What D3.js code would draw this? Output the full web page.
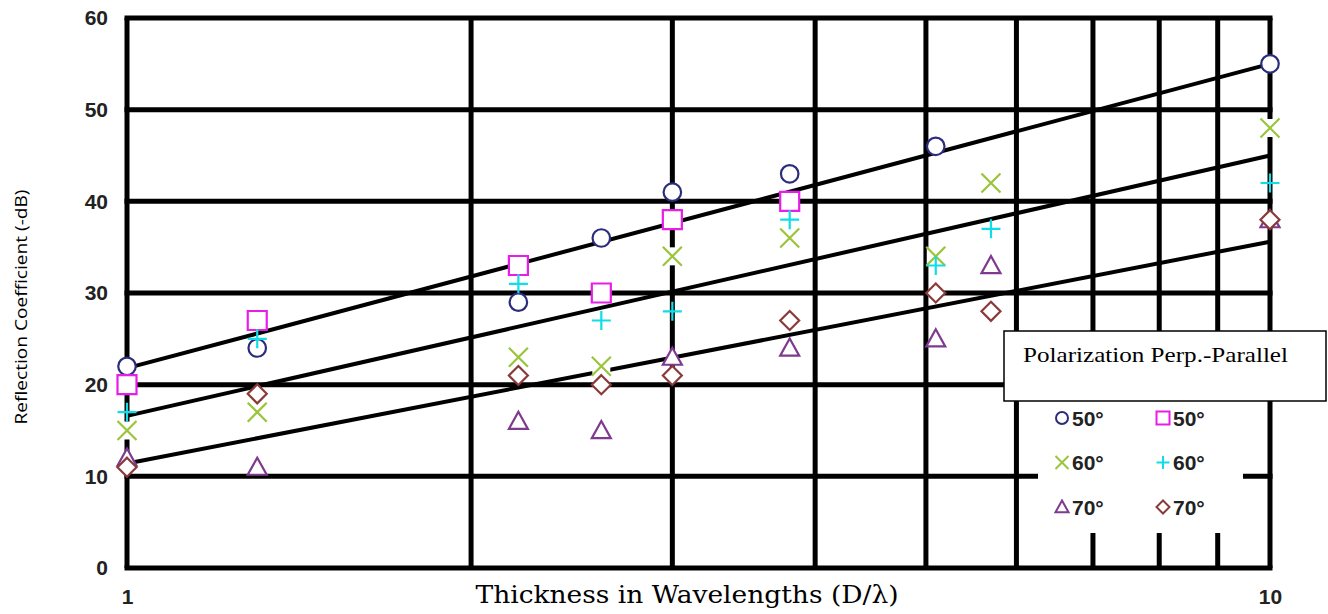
<!DOCTYPE html>
<html>
<head>
<meta charset="utf-8">
<script src="https://cdn.jsdelivr.net/npm/d3@7"></script>
<style>
  body { margin: 0; background: #fff; }
  svg { display: block; }
</style>
</head>
<body>
<div id="chart"></div>
<script>
// thickness values (D/lambda) where readings were taken
const thickness = [1, 1.3, 2.2, 2.6, 3, 3.8, 5.1, 5.7, 10];

// reflection coefficient (-dB), null = no reading
const perp50 = [22, 24, 29, 36, 41, 43, 46, null, 55];
const par50  = [20, 27, 33, 30, 38, 40, null, null, null];
const perp60 = [15, 17, 23, 22, 34, 36, 34, 42, 48];
const par60  = [17, 25, 31, 27, 28, 38, 33, 37, 42];
const perp70 = [12, 11, 16, 15, 23, 24, 25, 33, 38];
const par70  = [11, 19, 21, 20, 21, 27, 30, 28, 38];

// trend lines, value at thickness 1 and at thickness 10
const fitAt1  = [21.8, 16.6, 11.4];
const fitAt10 = [55, 45, 35.6];

const xTicks = [1, 2, 3, 4, 5, 6, 7, 8, 9, 10];
const xLabels = [1, 10];
const yTicks = [0, 10, 20, 30, 40, 50, 60];

const width = 1328, height = 614;
const plot = { left: 127, right: 1270, top: 18, bottom: 568 };

const svg = d3.select('#chart').append('svg')
    .attr('width', width)
    .attr('height', height);

const x = d3.scaleLog().domain([1, 10]).range([plot.left, plot.right]);
const y = d3.scaleLinear().domain([0, 60]).range([plot.bottom, plot.top]);

// grid (thick black lines, frame included)
const grid = svg.append('g').attr('stroke', '#000').attr('stroke-width', 5);
grid.selectAll('line.v')
    .data(xTicks)
    .enter().append('line')
    .attr('class', 'v')
    .attr('x1', d => x(d)).attr('x2', d => x(d))
    .attr('y1', plot.top).attr('y2', plot.bottom);
grid.selectAll('line.h')
    .data(yTicks)
    .enter().append('line')
    .attr('class', 'h')
    .attr('x1', plot.left - 2.5).attr('x2', plot.right + 2.5)
    .attr('y1', d => y(d)).attr('y2', d => y(d));

// tick labels
const tickFont = "'Liberation Sans', Arial, sans-serif";
svg.append('g')
    .attr('transform', `translate(${plot.left},0)`)
    .call(d3.axisLeft(y).tickValues(yTicks).tickSize(0).tickPadding(19))
    .call(g => g.select('.domain').remove())
    .selectAll('text')
    .attr('font-family', tickFont)
    .attr('font-weight', 'bold')
    .attr('font-size', 21)
    .attr('fill', '#222');

svg.append('g')
    .attr('transform', `translate(0,${plot.bottom})`)
    .call(d3.axisBottom(x).tickValues(xLabels).tickFormat(d3.format('d')).tickSize(0).tickPadding(21))
    .call(g => g.select('.domain').remove())
    .selectAll('text')
    .attr('font-family', tickFont)
    .attr('font-weight', 'bold')
    .attr('font-size', 21)
    .attr('fill', '#222');

// trend lines
const line = d3.line().x(d => x(d[0])).y(d => y(d[1]));
svg.append('g').selectAll('path')
    .data(fitAt1.map((v, i) => [[1, v], [10, fitAt10[i]]]))
    .enter().append('path')
    .attr('d', line)
    .attr('fill', 'none')
    .attr('stroke', '#000')
    .attr('stroke-width', 4);

// marker shapes
function markerPath(shape, s) {
    const h = s / 2;
    switch (shape) {
        case 'circle': return d3.symbol(d3.symbolCircle, Math.PI * h * h * 0.85)();
        case 'square': return `M${-h},${-h}H${h}V${h}H${-h}Z`;
        case 'times': return `M${-h},${-h}L${h},${h}M${-h},${h}L${h},${-h}`;
        case 'plus': return `M${-h},0H${h}M0,${-h}V${h}`;
        case 'triangle': return `M0,${-h}L${h},${h * 0.8}L${-h},${h * 0.8}Z`;
        case 'diamond': return `M0,${-h}L${h},0L0,${h}L${-h},0Z`;
    }
}

const series = [
    { values: perp50, shape: 'circle',   color: '#2b2d7c', label: '50°' },
    { values: par50,  shape: 'square',   color: '#e81ee8', label: '50°' },
    { values: perp60, shape: 'times',    color: '#9ac43a', label: '60°' },
    { values: par60,  shape: 'plus',     color: '#10dde6', label: '60°' },
    { values: perp70, shape: 'triangle', color: '#7d3a8e', label: '70°' },
    { values: par70,  shape: 'diamond',  color: '#8a3a3a', label: '70°' }
];

series.forEach(s => {
    const pts = thickness.map((t, i) => [t, s.values[i]]).filter(d => d[1] != null);
    const g = svg.append('g');
    const m = g.selectAll('g')
        .data(pts)
        .enter().append('g')
        .attr('transform', d => `translate(${x(d[0])},${y(d[1])})`);
    if (s.shape === 'times') {
        m.append('rect').attr('x', -9).attr('y', -9).attr('width', 18).attr('height', 18).attr('fill', '#fff');
    }
    m.append('path')
        .attr('d', markerPath(s.shape, 19))
        .attr('fill', (s.shape === 'times' || s.shape === 'plus') ? 'none' : '#fff')
        .attr('stroke', s.color)
        .attr('stroke-width', 2.2);
});

// legend
const legend = svg.append('g');
legend.append('rect')
    .attr('x', 1038).attr('y', 401)
    .attr('width', 205).attr('height', 132)
    .attr('fill', '#fff');
legend.append('rect')
    .attr('x', 1004).attr('y', 331)
    .attr('width', 322).attr('height', 70)
    .attr('fill', '#fff')
    .attr('stroke', '#000')
    .attr('stroke-width', 1.5);
legend.append('text')
    .attr('x', 1023).attr('y', 362)
    .attr('font-family', "'Liberation Serif', 'Times New Roman', serif")
    .attr('font-size', 21)
    .attr('textLength', 265)
    .attr('lengthAdjust', 'spacingAndGlyphs')
    .text('Polarization Perp.-Parallel');

const item = legend.selectAll('g.item')
    .data(series)
    .enter().append('g')
    .attr('class', 'item')
    .attr('transform', (d, i) => `translate(${i % 2 === 0 ? 1062 : 1163},${418 + Math.floor(i / 2) * 44.5})`);
item.append('path')
    .attr('d', d => markerPath(d.shape, 13))
    .attr('fill', 'none')
    .attr('stroke', d => d.color)
    .attr('stroke-width', 2);
item.append('text')
    .attr('x', 10)
    .attr('dy', '0.36em')
    .attr('font-family', tickFont)
    .attr('font-weight', 'bold')
    .attr('font-size', 21)
    .attr('fill', '#222')
    .text(d => d.label);

// axis titles
svg.append('text')
    .attr('x', 687).attr('y', 603)
    .attr('text-anchor', 'middle')
    .attr('font-family', "'DejaVu Serif', 'Liberation Serif', serif")
    .attr('font-size', 24)
    .attr('textLength', 423)
    .attr('lengthAdjust', 'spacingAndGlyphs')
    .text('Thickness in Wavelengths (D/λ)');

svg.append('text')
    .attr('transform', 'translate(27,307) rotate(-90)')
    .attr('text-anchor', 'middle')
    .attr('font-family', "'Open Sans', 'Noto Sans', sans-serif")
    .attr('font-size', 16)
    .attr('textLength', 235)
    .attr('lengthAdjust', 'spacingAndGlyphs')
    .text('Reflection Coefficient (-dB)');
</script>
</body>
</html>
